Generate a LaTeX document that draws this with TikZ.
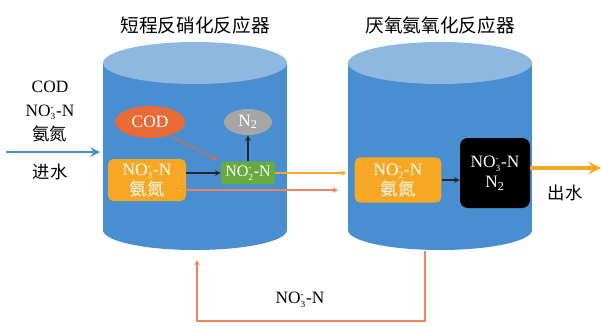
\documentclass[tikz,border=0pt]{standalone}
\usepackage{fontspec}
\setmainfont{Liberation Serif}
\newfontfamily\cjk{Noto Sans CJK SC}
\usetikzlibrary{shapes.geometric, arrows, positioning}

\definecolor{tankside}{RGB}{72,142,208}
\definecolor{tanktop}{RGB}{142,184,224}
\definecolor{codred}{RGB}{232,106,52}
\definecolor{ammonia}{RGB}{246,168,36}
\definecolor{nitritegreen}{RGB}{104,170,64}
\definecolor{loopred}{RGB}{238,132,96}

% NO_x^- -N with the charge set over the index
\newcommand\nox[1]{NO$_{\hbox{\scriptsize #1}}^{\hbox{\scriptsize -}}$-N}

\begin{document}
\begin{tikzpicture}[x=0.75pt, y=0.75pt, >=stealth,
    every node/.style={font=\fontsize{13}{18}\selectfont},
    title/.style={font=\cjk\fontsize{14}{16}\selectfont},
    species/.style={rectangle, rounded corners=4pt, text=white, align=center,
                    inner sep=1pt, font=\fontsize{13}{15}\selectfont},
    ammbox/.style={species, fill=ammonia, minimum width=58.5pt, minimum height=31.5pt},
    nitbox/.style={species, rounded corners=1pt, fill=nitritegreen, minimum width=40.5pt,
                   minimum height=17pt, font=\fontsize{12}{14}\selectfont},
    darkbox/.style={species, rounded corners=6pt, fill=black, minimum width=52.5pt,
                    minimum height=52.5pt},
    codball/.style={ellipse, fill=codred, text=white, inner sep=0pt,
                    minimum width=52.5pt, minimum height=24pt},
    gasball/.style={ellipse, fill=black!35, text=white, inner sep=0pt,
                    minimum width=36pt, minimum height=19.5pt},
    blackarrow/.style={->, line width=0.9pt, black!85},
    thinarrow/.style={->, line width=0.8pt},
    feedarrow/.style={->, line width=2.2pt, tankside},
    outarrow/.style={->, line width=3pt, ammonia}]

    \useasboundingbox (0,0) rectangle (602,-325);

    % the two tanks
    \foreach \cx in {195,440} {
        \fill[tankside] (\cx,-230) ellipse (92 and 20);
        \fill[tankside] (\cx-92,-230) rectangle (\cx+92,-63);
        \fill[tanktop] (\cx,-63) ellipse (92 and 21);
    }

    % titles
    \node[title] (dntitle) at (195,-25) {短程反硝化反应器};
    \node[title] (amtitle) at (440,-25) {厌氧氨氧化反应器};

    % feed
    \node[align=center] (feed) at (50,-111) {COD\\\nox{3}\\{\cjk 氨氮}};
    \node (feedlbl) at (50,-172) {\cjk 进水};
    \coordinate (feedin) at (6,-152);
    \coordinate (feedout) at (100,-152);
    \draw[feedarrow] (feedin) -- (feedout);

    % first tank
    \node[codball] (cod) at (150,-122) {COD};
    \node[gasball] (ntwo) at (248,-122) {N\textsubscript{2}};
    \node[ammbox] (nothree) at (147,-180) {\nox{3}\\{\cjk 氨氮}};
    \node[nitbox] (nitrite) at (248,-173) {\nox{2}};

    % second tank
    \node[ammbox, minimum width=65pt, minimum height=34pt] (anamin) at (398,-180)
        {\nox{2}\\{\cjk 氨氮}};
    \node[darkbox] (effl) at (495,-173) {\nox{3}\\N\textsubscript{2}};
    \coordinate (effout) at (601,-168);
    \node (efflbl) at (565,-193) {\cjk 出水};

    % arrows
    \draw[blackarrow] (nothree.east |- nitrite) -- (nitrite);
    \draw[blackarrow] (nitrite) -- (ntwo);
    \draw[thinarrow, codred, shorten <=2pt, shorten >=3pt] (cod.-35) -- (nitrite.north west);
    \draw[thinarrow, ammonia, shorten >=6pt] (nitrite) -- (nitrite -| anamin.west);
    \coordinate (bypass) at (338,-190);
    \draw[thinarrow, loopred] (nothree.east |- bypass) -- (bypass);
    \draw[blackarrow] (anamin.east) -- (anamin.east -| effl.west);
    \draw[outarrow] (effl.east |- effout) -- (effout);

    % recycle line
    \coordinate (recyc) at (425,-251);
    \coordinate (recycin) at (197,-260);
    \draw[thinarrow, loopred] (recyc) -- ++(0,-70) -| (recycin);
    \node (recyclbl) at (300,-300) {\nox{3}};

\end{tikzpicture}
\end{document}
